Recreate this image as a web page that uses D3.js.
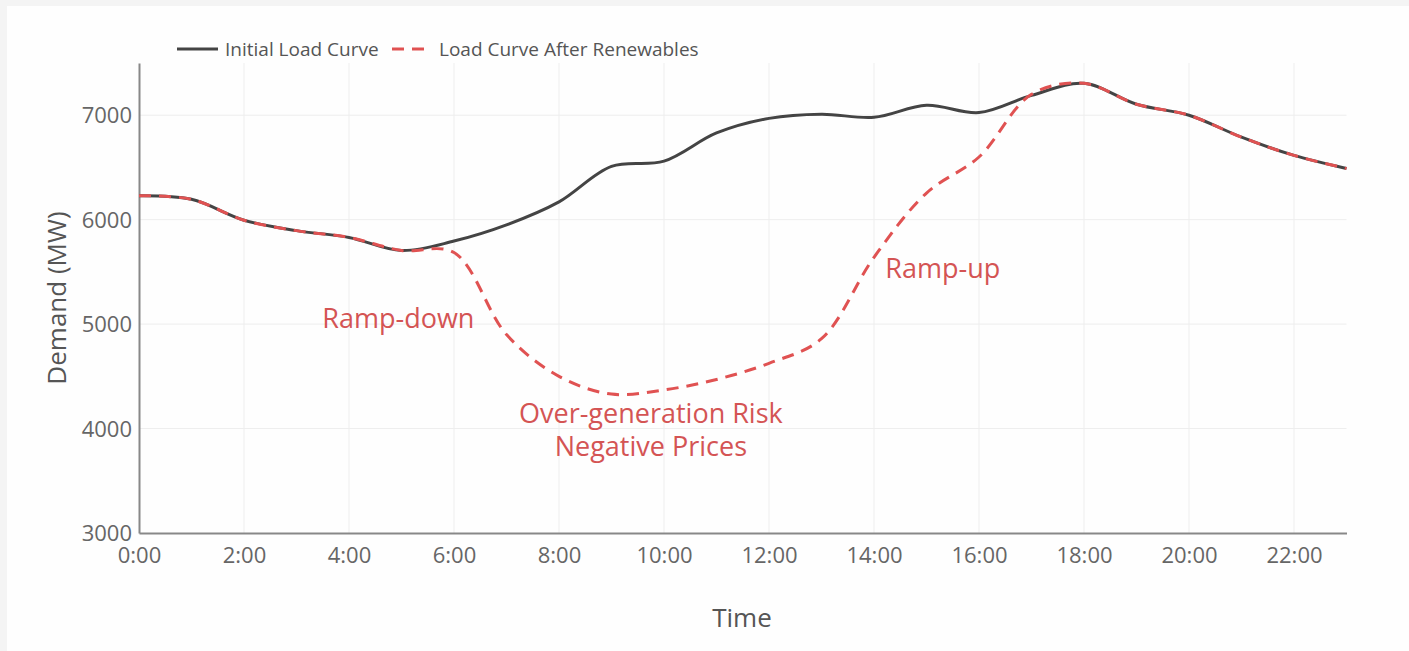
<!DOCTYPE html>
<html>
<head>
<meta charset="utf-8">
<script src="https://cdn.jsdelivr.net/npm/d3@7"></script>
<style>
  html, body { margin: 0; padding: 0; background: #f4f4f4; }
  svg { display: block; font-family: "Open Sans", sans-serif; }
</style>
</head>
<body>
<svg id="chart" width="1409" height="651"></svg>
<script>
// ---- data ----
const hours = [0,1,2,3,4,5,6,7,8,9,10,11,12,13,14,15,16,17,18,19,20,21,22,23];
const initialLoad = [6230,6195,5995,5895,5830,5705,5795,5950,6170,6510,6560,6830,6970,7010,6980,7095,7025,7190,7305,7105,7000,6790,6615,6490];
const afterRenewables = [6230,6195,5995,5895,5830,5705,5685,4900,4500,4330,4370,4470,4625,4860,5640,6255,6600,7200,7305,7105,7000,6790,6615,6490];
const xTickValues = [0,2,4,6,8,10,12,14,16,18,20,22];
const xTickLabels = ["0:00","2:00","4:00","6:00","8:00","10:00","12:00","14:00","16:00","18:00","20:00","22:00"];
const yTickValues = [3000,4000,5000,6000,7000];
const seriesNames = ["Initial Load Curve","Load Curve After Renewables"];
const annotations = [
  {text:"Ramp-down", x:4.94, y:5057},
  {text:"Ramp-up", x:15.31, y:5536},
  {text:"Over-generation Risk", x:9.75, y:4148},
  {text:"Negative Prices", x:9.75, y:3823}
];

// ---- layout ----
const svg = d3.select("#chart");
const W = 1409, H = 651;
const m = {left:139, right:W-1346.5, top:63, bottom:H-533};
const red = "#e05252";
const redText = "#d45454";
const black = "#444444";

svg.append("rect").attr("width",W).attr("height",H).attr("fill","#f4f4f4");
svg.append("rect").attr("x",7).attr("y",6).attr("width",W-7).attr("height",H-6).attr("fill","#fefefe");

const x = d3.scaleLinear().domain([0,23]).range([m.left, W-m.right]);
const y = d3.scaleLinear().domain([3000,7500]).range([H-m.bottom, m.top]);

// grid
const g = svg.append("g");
g.selectAll(".vg").data(xTickValues.filter(d=>d>0)).join("line")
  .attr("x1",d=>x(d)).attr("x2",d=>x(d)).attr("y1",y(7500)).attr("y2",y(3000))
  .attr("stroke","#eeeeee").attr("stroke-width",1);
g.selectAll(".hg").data(yTickValues.filter(d=>d>3000)).join("line")
  .attr("x1",x(0)).attr("x2",x(23)).attr("y1",d=>y(d)).attr("y2",d=>y(d))
  .attr("stroke","#eeeeee").attr("stroke-width",1);

// axes
const xAxis = d3.axisBottom(x).tickValues(xTickValues).tickFormat((d,i)=>xTickLabels[i]).tickSize(0);
const yAxis = d3.axisLeft(y).tickValues(yTickValues).tickFormat(d3.format("d")).tickSize(0).tickPadding(7);
const gx = svg.append("g").attr("transform",`translate(0,${y(3000)})`).call(xAxis);
const gy = svg.append("g").attr("transform",`translate(${x(0)},0)`).call(yAxis);
[gx,gy].forEach(a=>{
  a.select(".domain").attr("stroke","#888").attr("stroke-width",2);
  a.selectAll("text").attr("fill","#666").attr("font-size",22).attr("font-family","Open Sans");
});
gx.selectAll("text").attr("y",22).attr("dy","0.35em");
gy.selectAll("text").attr("dy","0.35em");

// axis titles
svg.append("text").attr("x",742).attr("y",618).attr("dy","0.35em").attr("text-anchor","middle")
  .attr("font-size",26).attr("fill","#555").text("Time");
svg.append("text").attr("transform","translate(57,298) rotate(-90)").attr("dy","0.35em").attr("text-anchor","middle")
  .attr("font-size",26).attr("fill","#555").text("Demand (MW)");

// lines
const line = d3.line().x((d,i)=>x(hours[i])).y(d=>y(d)).curve(d3.curveCatmullRom.alpha(0.5));
svg.append("path").datum(initialLoad).attr("d",line).attr("fill","none")
  .attr("stroke",black).attr("stroke-width",3);
svg.append("path").datum(afterRenewables).attr("d",line).attr("fill","none")
  .attr("stroke",red).attr("stroke-width",3).attr("stroke-dasharray","12,8");

// legend
const lg = svg.append("g");
lg.append("line").attr("x1",177).attr("x2",218).attr("y1",49).attr("y2",49).attr("stroke",black).attr("stroke-width",3);
lg.append("text").attr("x",225).attr("y",49).attr("dy","0.35em").attr("font-size",19).attr("fill","#555").text(seriesNames[0]);
lg.append("line").attr("x1",392).attr("x2",430).attr("y1",49).attr("y2",49).attr("stroke",red).attr("stroke-width",3).attr("stroke-dasharray","12,8");
lg.append("text").attr("x",439).attr("y",49).attr("dy","0.35em").attr("font-size",19).attr("fill","#555").text(seriesNames[1]);

// annotations
svg.selectAll(".ann").data(annotations).join("text")
  .attr("x",d=>x(d.x)).attr("y",d=>y(d.y)).attr("dy","0.35em").attr("text-anchor","middle")
  .attr("font-size",27).attr("fill",redText).text(d=>d.text);
</script>
</body>
</html>
